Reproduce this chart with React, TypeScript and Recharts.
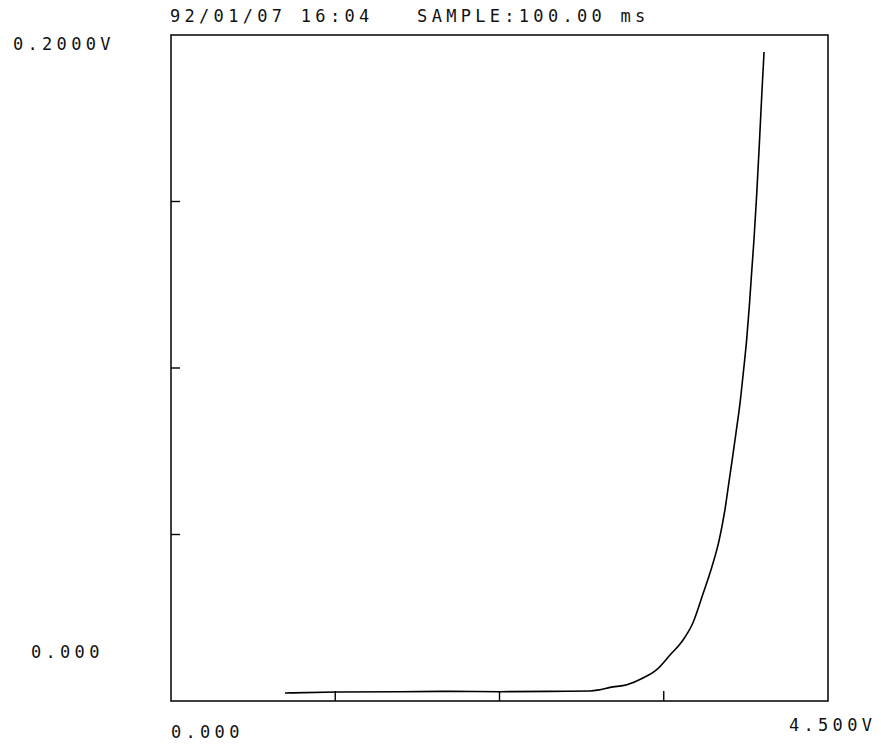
import { LineChart, Line, XAxis, YAxis, ReferenceArea } from "recharts";

const inputVolts = [
  0.781, 1.137, 1.568, 1.911, 2.253, 2.596, 2.87, 2.938, 3.007, 3.123, 3.233,
  3.329, 3.418, 3.507, 3.575, 3.644, 3.705, 3.755, 3.794, 3.824, 3.847, 3.87,
  3.897, 3.92, 3.943, 3.961, 3.977, 3.993, 4.011, 4.029, 4.046, 4.062,
];
const outputVolts = [
  0.0024, 0.0027, 0.0028, 0.0029, 0.0028, 0.0029, 0.003, 0.0034, 0.0041,
  0.0049, 0.0069, 0.0095, 0.0138, 0.0183, 0.0235, 0.0322, 0.0403, 0.0484,
  0.0574, 0.0665, 0.0734, 0.0806, 0.0893, 0.0986, 0.1086, 0.1185, 0.1287,
  0.1386, 0.1516, 0.1666, 0.1817, 0.1949,
];

const xTicks = [0, 1.125, 2.25, 3.375, 4.5];
const xTickLabels = ["0.000", "", "", "", "4.500V"];
const yTicks = [0, 0.05, 0.1, 0.15, 0.2];
const yTickLabels = ["0.000", "", "", "", "0.2000V"];
const title = "92/01/07 16:04   SAMPLE:100.00 ms";

const data = inputVolts.map((v, i) => ({ vin: v, vout: outputVolts[i] }));

const FONT = "'DejaVu Sans Mono', monospace";
const textStyle = { fontFamily: FONT, fontSize: 17, letterSpacing: 4.3, fill: "#111" };

function XTick({ x, y, payload }: any) {
  const i = xTicks.indexOf(payload.value);
  const label = xTickLabels[i];
  const edge = i === 0 || i === xTicks.length - 1;
  return (
    <g>
      {!edge && <line x1={x} x2={x} y1={y} y2={y - 10} stroke="#000" strokeWidth={1.4} />}
      {label && (
        <text x={i === 0 ? x : x - 39} y={i === 0 ? y + 37 : y + 30} style={textStyle}>
          {label}
        </text>
      )}
    </g>
  );
}

function YTick({ x, y, payload }: any) {
  const i = yTicks.indexOf(payload.value);
  const label = yTickLabels[i];
  const edge = i === 0 || i === yTicks.length - 1;
  return (
    <g>
      {!edge && <line x1={x} x2={x + 9} y1={y} y2={y} stroke="#000" strokeWidth={1.4} />}
      {label && (
        <text x={i === 0 ? x - 140 : x - 158} y={i === 0 ? y - 43 : y + 15} style={textStyle}>
          {label}
        </text>
      )}
    </g>
  );
}

export default function App() {
  return (
    <div style={{ position: "absolute", left: 0, top: 0, width: 881, height: 744, background: "#fff" }}>
      <div
        style={{
          position: "absolute",
          left: 170,
          top: 6,
          fontFamily: FONT,
          fontSize: 17,
          letterSpacing: 4.3,
          whiteSpace: "pre",
          color: "#111",
          lineHeight: "20px",
        }}
      >
        {title}
      </div>
      <LineChart
        width={881}
        height={744}
        data={data}
        margin={{ top: 35, right: 53, left: 170, bottom: 42 }}
      >
        <XAxis
          type="number"
          dataKey="vin"
          domain={[0, 4.5]}
          ticks={xTicks}
          interval={0}
          height={1}
          tickSize={0}
          tickMargin={0}
          axisLine={false}
          tickLine={false}
          tick={XTick}
        />
        <YAxis
          type="number"
          domain={[0, 0.2]}
          ticks={yTicks}
          interval={0}
          width={1}
          tickSize={0}
          tickMargin={0}
          axisLine={false}
          tickLine={false}
          tick={YTick}
        />
        <ReferenceArea
          x1={0}
          x2={4.5}
          y1={0}
          y2={0.2}
          fill="none"
          fillOpacity={0}
          stroke="#000"
          strokeWidth={1.5}
        />
        <Line
          type="monotone"
          dataKey="vout"
          stroke="#000"
          strokeWidth={1.6}
          dot={false}
          isAnimationActive={false}
        />
      </LineChart>
    </div>
  );
}
